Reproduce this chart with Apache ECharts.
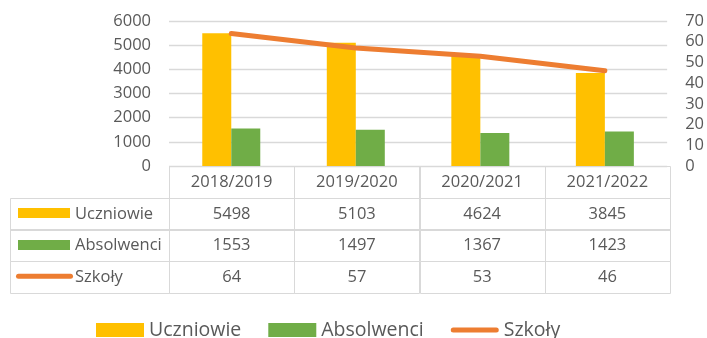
<!DOCTYPE html>
<html>
<head>
<meta charset="utf-8">
<script src="https://cdn.jsdelivr.net/npm/echarts@6/dist/echarts.min.js"></script>
<style>
  html, body { margin: 0; padding: 0; background: #fff; }
  #chart { width: 707px; height: 338px; }
</style>
</head>
<body>
<div id="chart"></div>
<script>
// School years and yearly figures
const categories = ['2018/2019', '2019/2020', '2020/2021', '2021/2022'];
const uczniowie = [5498, 5103, 4624, 3845];
const absolwenci = [1553, 1497, 1367, 1423];
const szkoly = [64, 57, 53, 46];
const leftTicks = { min: 0, max: 6000, interval: 1000 };
const rightTicks = { min: 0, max: 70, interval: 10 };

const COLORS = { uczniowie: '#FFC000', absolwenci: '#70AD47', szkoly: '#ED7D31' };
const TEXT = '#595959';
const BORDER = '#D9D9D9';
const FONT = '"Open Sans", "Noto Sans", sans-serif';
const LABEL_COL_W = 159;

// Pill-shaped key for the line series (outer moves fix the 48x14 box)
const LINE_KEY = 'path://M0,0M48,14M2.5,4.5L45.5,4.5A2.5,2.5,0,0,1,45.5,9.5L2.5,9.5A2.5,2.5,0,0,1,2.5,4.5Z';

// Data table rows: header + one row per series
const tableRows = [
  { name: '', values: categories, key: null },
  { name: 'Uczniowie', values: uczniowie, key: 'bar', color: COLORS.uczniowie },
  { name: 'Absolwenci', values: absolwenci, key: 'bar', color: COLORS.absolwenci },
  { name: 'Szkoły', values: szkoly, key: 'line', color: COLORS.szkoly }
];

// One entry per table cell (col -1 is the row-header column)
const cells = [];
tableRows.forEach((row, r) => {
  if (r > 0) cells.push({ col: -1, row: r, text: row.name, key: row.key, color: row.color });
  row.values.forEach((v, c) => cells.push({ col: c, row: r, text: String(v) }));
});

function renderCell(params, api) {
  const cell = cells[params.dataIndex];
  const size = api.size([1, 1]);
  const cs = params.coordSys;
  const ref = api.coord([Math.max(cell.col, 0), cell.row]);
  const cy = ref[1];
  const top = Math.round(cy - size[1] / 2) + 0.5;
  const h = Math.round(size[1]);
  const children = [];
  if (cell.col < 0) {
    const left = Math.round(cs.x - LABEL_COL_W) + 0.5;
    children.push({
      type: 'rect',
      shape: { x: left, y: top, width: LABEL_COL_W, height: h },
      style: { fill: 'none', stroke: BORDER, lineWidth: 1 }
    });
    if (cell.key === 'bar') {
      children.push({
        type: 'rect',
        shape: { x: left + 7.5, y: Math.round(cy) - 5, width: 52, height: 10 },
        style: { fill: cell.color }
      });
    } else {
      children.push({
        type: 'line',
        shape: { x1: left + 8, y1: cy, x2: left + 60, y2: cy },
        style: { stroke: cell.color, lineWidth: 5, lineCap: 'round' }
      });
    }
    children.push({
      type: 'text',
      style: {
        text: cell.text, x: left + 64.5, y: cy + 1,
        align: 'left', verticalAlign: 'middle',
        fill: TEXT, font: '16.5px ' + FONT
      }
    });
  } else {
    const left = Math.round(ref[0] - size[0] / 2) + 0.5;
    const w = Math.round(size[0]);
    children.push({
      type: 'rect',
      shape: { x: left, y: top, width: w, height: h },
      style: { fill: 'none', stroke: BORDER, lineWidth: 1 }
    });
    children.push({
      type: 'text',
      style: {
        text: cell.text, x: ref[0], y: cy + 1,
        align: 'center', verticalAlign: 'middle',
        fill: TEXT, font: '16.5px ' + FONT
      }
    });
  }
  return { type: 'group', children };
}

const chart = echarts.init(document.getElementById('chart'));
chart.setOption({
  animation: false,
  backgroundColor: '#fff',
  textStyle: { fontFamily: FONT },
  grid: [
    { left: 169, right: 37, top: 21, height: 145 },
    { left: 169, right: 37, top: 166, height: 126 }
  ],
  xAxis: [
    {
      type: 'category', gridIndex: 0, data: categories,
      axisLine: { show: false }, axisTick: { show: false }, axisLabel: { show: false }
    },
    {
      type: 'category', gridIndex: 1, data: categories, show: false
    }
  ],
  yAxis: [
    {
      type: 'value', gridIndex: 0, ...leftTicks,
      axisLine: { show: false }, axisTick: { show: false },
      axisLabel: { color: TEXT, fontSize: 16.5, fontFamily: FONT, margin: 18, formatter: v => String(v) },
      splitLine: { lineStyle: { color: BORDER, width: 1.3 } }
    },
    {
      type: 'value', gridIndex: 0, position: 'right', ...rightTicks,
      axisLine: { show: false }, axisTick: { show: false },
      axisLabel: { color: TEXT, fontSize: 16.5, fontFamily: FONT, margin: 18, formatter: v => String(v) },
      splitLine: { show: false }
    },
    {
      type: 'category', gridIndex: 1, inverse: true,
      data: tableRows.map(r => r.name), show: false
    }
  ],
  legend: {
    left: 91, top: 315,
    itemWidth: 48, itemHeight: 14, itemGap: 27,
    textStyle: { color: TEXT, fontSize: 19.5, fontFamily: FONT },
    data: [
      { name: 'Uczniowie', icon: 'rect' },
      { name: 'Absolwenci', icon: 'rect' },
      { name: 'Szkoły', icon: LINE_KEY }
    ]
  },
  series: [
    {
      name: 'Uczniowie', type: 'bar', xAxisIndex: 0, yAxisIndex: 0,
      data: uczniowie, barWidth: 29, barGap: '0%',
      itemStyle: { color: COLORS.uczniowie }
    },
    {
      name: 'Absolwenci', type: 'bar', xAxisIndex: 0, yAxisIndex: 0,
      data: absolwenci, barWidth: 29, barGap: '0%',
      itemStyle: { color: COLORS.absolwenci }
    },
    {
      name: 'Szkoły', type: 'line', xAxisIndex: 0, yAxisIndex: 1,
      data: szkoly, symbol: 'none', showSymbol: false,
      lineStyle: { color: COLORS.szkoly, width: 5, cap: 'round', join: 'round' },
      itemStyle: { color: COLORS.szkoly }
    },
    {
      name: 'table', type: 'custom', xAxisIndex: 1, yAxisIndex: 2,
      clip: false, silent: true,
      renderItem: renderCell,
      data: cells.map(c => [Math.max(c.col, 0), c.row])
    }
  ]
});
</script>
</body>
</html>
